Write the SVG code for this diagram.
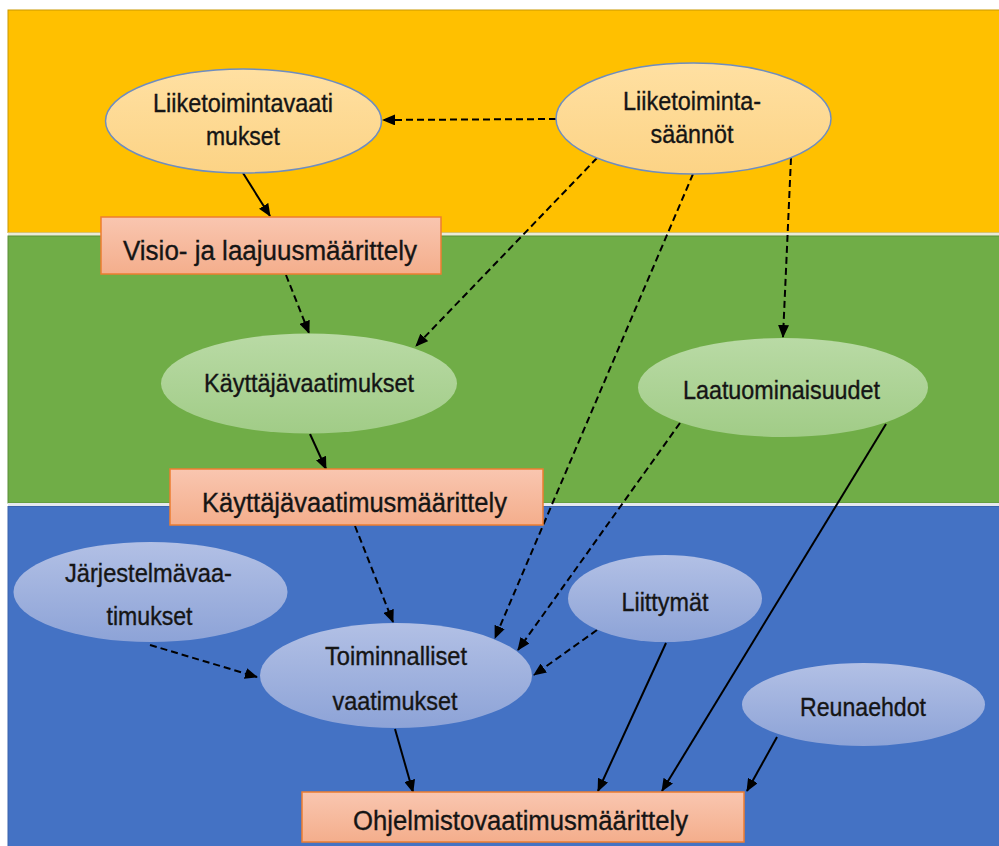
<svg xmlns="http://www.w3.org/2000/svg" width="999" height="846" viewBox="0 0 999 846">
<defs>
<linearGradient id="gY" x1="0" y1="0" x2="0" y2="1"><stop offset="0" stop-color="#FFE0A2"/><stop offset="1" stop-color="#FCD385"/></linearGradient>
<linearGradient id="gG" x1="0" y1="0" x2="0" y2="1"><stop offset="0" stop-color="#B9DAA5"/><stop offset="1" stop-color="#A1CC87"/></linearGradient>
<linearGradient id="gB" x1="0" y1="0" x2="0" y2="1"><stop offset="0" stop-color="#B2C0E5"/><stop offset="1" stop-color="#8DA3D7"/></linearGradient>
<linearGradient id="gR" x1="0" y1="0" x2="0" y2="1"><stop offset="0" stop-color="#F9C6B0"/><stop offset="1" stop-color="#F4AE8C"/></linearGradient>
<marker id="ah" markerUnits="userSpaceOnUse" markerWidth="13" markerHeight="11" refX="12" refY="5.5" orient="auto"><path d="M0,0 L13,5.5 L0,11 z" fill="#000"/></marker>
</defs>
<style>
.lbl{font-family:"Liberation Sans",Arial,sans-serif;font-size:25px;fill:#151515;stroke:#151515;stroke-width:0.35;text-anchor:middle}
.blbl{font-family:"Liberation Sans",Arial,sans-serif;font-size:27px;fill:#151515;stroke:#151515;stroke-width:0.35;text-anchor:middle}
.ey{fill:url(#gY);stroke:#6E8DC0;stroke-width:1.5}
.eg{fill:url(#gG)}
.eb{fill:url(#gB)}
.box{fill:url(#gR);stroke:#ED7D31;stroke-width:1.5}
.s{stroke:#000;stroke-width:2;fill:none;marker-end:url(#ah)}
.d{stroke:#000;stroke-width:2;fill:none;stroke-dasharray:7 4;marker-end:url(#ah)}
</style>
<rect x="0" y="0" width="999" height="846" fill="#ffffff"/>
<g id="bands">
<rect x="8" y="10" width="995" height="222.5" fill="#FFC000" stroke="#C99800" stroke-width="1"/>
<rect x="8" y="232.5" width="995" height="3.5" fill="#EAEBD8"/>
<rect x="8" y="236" width="995" height="267" fill="#70AD47" stroke="#5A8E38" stroke-width="1"/>
<rect x="8" y="503" width="995" height="3.5" fill="#E6E9EE"/>
<rect x="8" y="506.5" width="995" height="345" fill="#4472C4" stroke="#3A63AC" stroke-width="1"/>
</g>
<g id="connectors">
<line class="s" x1="243" y1="173" x2="270" y2="216"/>
<line class="d" x1="556" y1="119" x2="383" y2="120"/>
<line class="d" x1="286" y1="275" x2="309" y2="333"/>
<line class="d" x1="597" y1="158" x2="416" y2="346"/>
<line class="d" x1="693" y1="174" x2="495" y2="638"/>
<line class="d" x1="791" y1="158" x2="783" y2="337"/>
<line class="s" x1="310" y1="434" x2="326" y2="469"/>
<line class="d" x1="355" y1="526" x2="393" y2="622"/>
<line class="d" x1="680" y1="423" x2="518" y2="650"/>
<line class="s" x1="886" y1="424" x2="662" y2="791"/>
<line class="d" x1="150" y1="645" x2="257" y2="677"/>
<line class="d" x1="597" y1="630" x2="534" y2="675"/>
<line class="s" x1="395" y1="729" x2="413" y2="792"/>
<line class="s" x1="666" y1="643" x2="598" y2="791"/>
<line class="s" x1="777" y1="737" x2="747" y2="791"/>
</g>
<g id="liiketoimintavaatimukset">
<ellipse class="ey" cx="243.5" cy="121" rx="138" ry="52"/>
<text class="lbl" x="243" y="112" textLength="180" lengthAdjust="spacingAndGlyphs">Liiketoimintavaati</text>
<text class="lbl" x="243" y="145" textLength="74" lengthAdjust="spacingAndGlyphs">mukset</text>
</g>
<g id="liiketoimintasaannot">
<ellipse class="ey" cx="693.5" cy="118.5" rx="137.5" ry="55.5"/>
<text class="lbl" x="692" y="110" textLength="138" lengthAdjust="spacingAndGlyphs">Liiketoiminta-</text>
<text class="lbl" x="692" y="143" textLength="83" lengthAdjust="spacingAndGlyphs">säännöt</text>
</g>
<g id="visio">
<rect class="box" x="101" y="217" width="340" height="57"/>
<text class="blbl" x="270" y="260" textLength="294" lengthAdjust="spacingAndGlyphs">Visio- ja laajuusmäärittely</text>
</g>
<g id="kayttajavaatimukset">
<ellipse class="eg" cx="309" cy="383.5" rx="148" ry="50"/>
<text class="lbl" x="309" y="392" textLength="210" lengthAdjust="spacingAndGlyphs">Käyttäjävaatimukset</text>
</g>
<g id="laatuominaisuudet">
<ellipse class="eg" cx="783" cy="387.5" rx="145" ry="49.5"/>
<text class="lbl" x="781.5" y="399" textLength="197" lengthAdjust="spacingAndGlyphs">Laatuominaisuudet</text>
</g>
<g id="kayttajavaatimusmaarittely">
<rect class="box" x="170" y="469" width="373" height="56"/>
<text class="blbl" x="354.5" y="512" textLength="305" lengthAdjust="spacingAndGlyphs">Käyttäjävaatimusmäärittely</text>
</g>
<g id="jarjestelmavaatimukset">
<ellipse class="eb" cx="150.5" cy="592" rx="137" ry="50"/>
<text class="lbl" x="148.5" y="582" textLength="167" lengthAdjust="spacingAndGlyphs">Järjestelmävaa-</text>
<text class="lbl" x="149.5" y="625" textLength="86" lengthAdjust="spacingAndGlyphs">timukset</text>
</g>
<g id="toiminnalliset">
<ellipse class="eb" cx="396" cy="675.5" rx="136" ry="52.5"/>
<text class="lbl" x="396" y="665" textLength="142" lengthAdjust="spacingAndGlyphs">Toiminnalliset</text>
<text class="lbl" x="395" y="710" textLength="125" lengthAdjust="spacingAndGlyphs">vaatimukset</text>
</g>
<g id="liittymat">
<ellipse class="eb" cx="665" cy="598.5" rx="97" ry="43.5"/>
<text class="lbl" x="665" y="611" textLength="87" lengthAdjust="spacingAndGlyphs">Liittymät</text>
</g>
<g id="reunaehdot">
<ellipse class="eb" cx="863.5" cy="704.5" rx="121.5" ry="41.5"/>
<text class="lbl" x="863" y="716" textLength="126" lengthAdjust="spacingAndGlyphs">Reunaehdot</text>
</g>
<g id="ohjelmistovaatimusmaarittely">
<rect class="box" x="302" y="792" width="442" height="50"/>
<text class="blbl" x="520.5" y="830" textLength="335" lengthAdjust="spacingAndGlyphs">Ohjelmistovaatimusmäärittely</text>
</g>
</svg>
